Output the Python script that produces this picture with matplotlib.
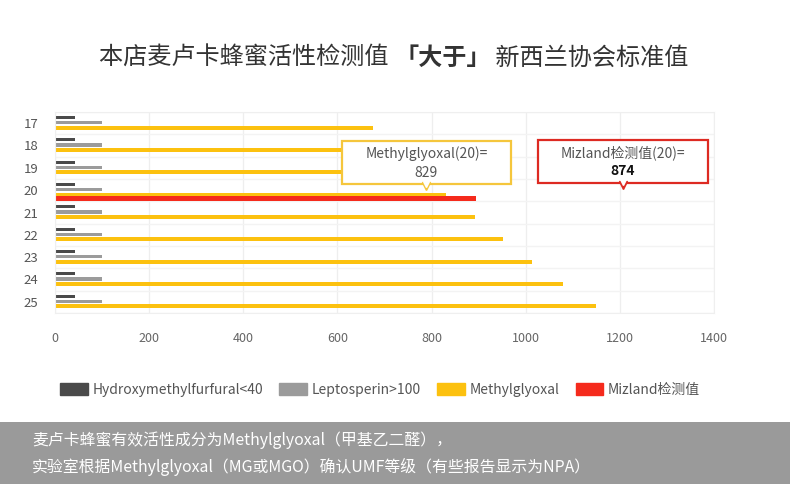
import matplotlib.pyplot as plt
from matplotlib.patches import Patch, Rectangle
import numpy as np

plt.rcParams['font.family'] = ['Noto Sans CJK SC', 'DejaVu Sans']

# data
rows = ['17', '18', '19', '20', '21', '22', '23', '24', '25']
hmf = [42, 42, 42, 42, 42, 42, 42, 42, 42]
lepto = [100, 100, 100, 100, 100, 100, 100, 100, 100]
mgo = [676, 727, 778, 831, 892, 951, 1014, 1080, 1150]
mizland_row = '20'
mizland_val = 895
series_names = ['Hydroxymethylfurfural<40', 'Leptosperin>100', 'Methylglyoxal', 'Mizland检测值']
x_ticks = [0, 200, 400, 600, 800, 1000, 1200, 1400]

c_dark = '#4a4a4a'
c_grey = '#9b9b9b'
c_yel = '#fcc10f'
c_red = '#f52a1c'

fig = plt.figure(figsize=(7.9, 4.84), dpi=100)
ax = fig.add_axes([55 / 790, 1 - 313 / 484, 659 / 790, 201 / 484])

y = np.arange(len(rows))
ax.barh(y - 0.25, hmf, height=0.14, color=c_dark, zorder=2)
ax.barh(y - 0.02, lepto, height=0.14, color=c_grey, zorder=2)
ax.barh(y + 0.2, mgo, height=0.17, color=c_yel, zorder=2)
ri = rows.index(mizland_row)
ax.barh(ri + 0.38, mizland_val, height=0.2, color=c_red, zorder=2)

ax.set_xlim(0, 1400)
ax.set_ylim(len(rows) - 0.5, -0.5)
ax.set_xticks(x_ticks)
ax.set_yticks(y)
ax.set_yticklabels(rows)
ax.set_yticks(np.arange(len(rows) + 1) - 0.5, minor=True)
ax.tick_params(axis='x', length=0, pad=14, labelsize=9, labelcolor='#666666')
ax.tick_params(axis='y', which='major', length=0, pad=12, labelsize=9.5, labelcolor='#555555')
ax.tick_params(axis='y', which='minor', length=0)
ax.grid(axis='x', color='#eeeeee', lw=0.9, zorder=3)
ax.grid(axis='y', which='minor', color='#f3f3f3', lw=1.0, zorder=1)
for s in ax.spines.values():
    s.set_color('#efefef')

# callout boxes
def callout(xc, yc, w, h, edge, line1, line2, bold2):
    ax.add_patch(Rectangle((xc - w / 2, yc - h / 2), w, h, facecolor='white',
                           edgecolor=edge, lw=1.6, zorder=5))
    ax.plot([xc], [yc + h / 2 + 0.08], marker='v', ms=6, color=edge, zorder=5.5, clip_on=False)
    ax.plot([xc], [yc + h / 2 - 0.02], marker='v', ms=4, color='white', zorder=6, clip_on=False)
    ax.text(xc, yc - 0.38, line1, ha='center', va='center', fontsize=10, color='#555555', zorder=7)
    ax.text(xc, yc + 0.45, line2, ha='center', va='center', fontsize=10,
            color='#111111' if bold2 else '#555555',
            fontweight='bold' if bold2 else 'normal', zorder=7)

callout(789, 1.76, 360, 1.93, '#f5c63c', 'Methylglyoxal(20)=', str(829), False)
callout(1206, 1.71, 361, 1.93, '#dd2a22', 'Mizland检测值(20)=', str(874), True)

# title with bold middle part
parts = [('本店麦卢卡蜂蜜活性检测值 ', 'normal'), ('「大于」', 'bold'), (' 新西兰协会标准值', 'normal')]
renderer = fig.canvas.get_renderer()
texts = []
total = 0
for s, wgt in parts:
    t = fig.text(0, 1 - 58 / 484, s, fontsize=17.4, fontweight=wgt, color='#333333', va='center')
    w = t.get_window_extent(renderer).width
    texts.append((t, w))
    total += w
x0 = 394 - total / 2
for t, w in texts:
    t.set_x(x0 / 790)
    x0 += w

# legend
handles = [Patch(color=c) for c in [c_dark, c_grey, c_yel, c_red]]
fig.legend(handles, series_names, loc='center', bbox_to_anchor=(380 / 790, 1 - 390 / 484),
           ncol=4, frameon=False, fontsize=10, handlelength=2.0, handleheight=1.0,
           handletextpad=0.3, columnspacing=1.2, labelcolor='#555555')

# bottom note band
fig.patches.append(Rectangle((0, 0), 1, 62 / 484, transform=fig.transFigure,
                             facecolor='#9a9a9a', edgecolor='none', zorder=0))
fig.text(32 / 790, 1 - 440 / 484, '麦卢卡蜂蜜有效活性成分为Methylglyoxal（甲基乙二醛），',
         fontsize=11.4, color='white', va='center')
fig.text(32 / 790, 1 - 467 / 484, '实验室根据Methylglyoxal（MG或MGO）确认UMF等级（有些报告显示为NPA）',
         fontsize=11.4, color='white', va='center')

fig.savefig('out.png', dpi=100)
